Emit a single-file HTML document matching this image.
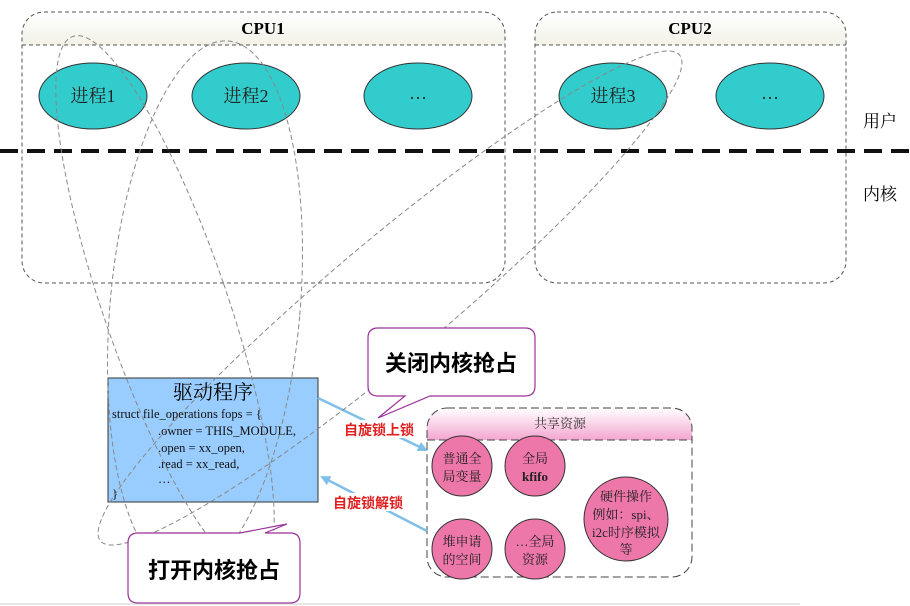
<!DOCTYPE html>
<html><head><meta charset="utf-8"><style>
body{margin:0;background:#fff}
svg{display:block}
text{font-family:"Liberation Serif","Noto Serif CJK SC",serif}
</style></head><body>
<svg width="910" height="606" viewBox="0 0 910 606" xmlns="http://www.w3.org/2000/svg">
<defs>
<linearGradient id="hd" x1="0" y1="0" x2="0" y2="1"><stop offset="0" stop-color="#fff"/><stop offset="1" stop-color="#f2f2e8"/></linearGradient>
<linearGradient id="pk" x1="0" y1="0" x2="0" y2="1"><stop offset="0" stop-color="#fff"/><stop offset="1" stop-color="#f4a6d0"/></linearGradient>
<marker id="ar" markerWidth="10" markerHeight="10" refX="8" refY="5" orient="auto" markerUnits="userSpaceOnUse"><path d="M0,0 L10,5 L0,10 z" fill="#7fbfea"/></marker>
</defs>
<path d="M22,45 V35 Q22,12 45,12 H482 Q505,12 505,35 V45 Z" fill="url(#hd)"/>
<rect x="22" y="12" width="483" height="271" rx="22" fill="none" stroke="#555" stroke-dasharray="4,3"/>
<line x1="22" y1="45" x2="505" y2="45" stroke="#555" stroke-dasharray="4,3"/>
<text x="263" y="34" font-size="17" font-weight="bold" text-anchor="middle">CPU1</text>
<path d="M535,45 V35 Q535,12 558,12 H823 Q846,12 846,35 V45 Z" fill="url(#hd)"/>
<rect x="535" y="12" width="311" height="271" rx="22" fill="none" stroke="#555" stroke-dasharray="4,3"/>
<line x1="535" y1="45" x2="846" y2="45" stroke="#555" stroke-dasharray="4,3"/>
<text x="690" y="34" font-size="17" font-weight="bold" text-anchor="middle">CPU2</text>
<g fill="#33cccc" stroke="#333" stroke-width="1">
<ellipse cx="93" cy="96" rx="54" ry="33"/>
<ellipse cx="246" cy="96" rx="54" ry="33"/>
<ellipse cx="418" cy="96" rx="54" ry="33"/>
<ellipse cx="613" cy="96" rx="54" ry="33"/>
<ellipse cx="770" cy="96" rx="54" ry="33"/>
</g>
<g font-size="18" text-anchor="middle" fill="#222">
<text x="93" y="102">进程1</text><text x="246" y="102">进程2</text><text x="418" y="99">…</text>
<text x="613" y="102">进程3</text><text x="770" y="99">…</text>
</g>
<line x1="0" y1="151" x2="910" y2="151" stroke="#111" stroke-width="4" stroke-dasharray="18,9"/>
<text x="880" y="127" font-size="17" text-anchor="middle">用户</text>
<text x="880" y="200" font-size="17" text-anchor="middle">内核</text>
<rect x="108" y="378" width="210" height="124" fill="#99ccff" stroke="#333"/>
<text x="213" y="399" font-size="20" text-anchor="middle">驱动程序</text>
<g font-size="12.5" fill="#111">
<text x="112" y="418">struct file_operations fops = {</text>
<text x="158" y="435">.owner = THIS_MODULE,</text>
<text x="158" y="452">.open = xx_open,</text>
<text x="158" y="468">.read = xx_read,</text>
<text x="158" y="483">…</text>
<text x="112" y="498">}</text>
</g>
<path d="M427,440 V430 Q427,408 449,408 H670 Q692,408 692,430 V440 Z" fill="url(#pk)"/>
<rect x="427" y="408" width="265" height="169" rx="20" fill="none" stroke="#444" stroke-dasharray="8,4"/>
<line x1="427" y1="440" x2="692" y2="440" stroke="#444" stroke-dasharray="8,4"/>
<text x="560" y="428" font-size="13" text-anchor="middle" fill="#333">共享资源</text>
<g fill="#ee77aa" stroke="#333">
<circle cx="462" cy="466" r="30"/><circle cx="535" cy="466" r="30"/>
<circle cx="462" cy="549" r="30"/><circle cx="535" cy="549" r="30"/>
<circle cx="626" cy="519" r="42"/>
</g>
<g font-size="13" text-anchor="middle" fill="#222">
<text x="462" y="463">普通全</text><text x="462" y="481">局变量</text>
<text x="535" y="463">全局</text><text x="535" y="481" font-weight="bold">kfifo</text>
<text x="462" y="546">堆申请</text><text x="462" y="564">的空间</text>
<text x="535" y="546">…全局</text><text x="535" y="564">资源</text>
<text x="626" y="501">硬件操作</text><text x="626" y="519">例如：spi、</text><text x="626" y="537">i2c时序模拟</text><text x="626" y="554">等</text>
</g>
<line x1="318" y1="398" x2="426" y2="450" stroke="#7fbfea" stroke-width="2.5" marker-end="url(#ar)"/>
<line x1="427" y1="531" x2="322" y2="477" stroke="#7fbfea" stroke-width="2.5" marker-end="url(#ar)"/>
<rect x="344" y="420" width="78" height="18" fill="#fff"/>
<rect x="332" y="493" width="80" height="18" fill="#fff"/>
<g font-size="14" fill="#e02020" font-weight="bold">
<text x="344" y="435" style="font-family:'Liberation Sans','Noto Sans CJK SC',sans-serif">自旋锁上锁</text>
<text x="333" y="508" style="font-family:'Liberation Sans','Noto Sans CJK SC',sans-serif">自旋锁解锁</text>
</g>
<g fill="none" stroke="#888" stroke-dasharray="5,3" stroke-width="1">
<ellipse cx="165" cy="304" rx="62" ry="283" transform="rotate(-19 165 304)"/>
<ellipse cx="205" cy="308" rx="95" ry="268" transform="rotate(5 205 308)"/>
<ellipse cx="390" cy="298" rx="58" ry="378" transform="rotate(50 390 298)"/>
</g>
<path d="M378,328 H525 Q535,328 535,338 V386 Q535,396 525,396 H430 L378,418 L405,396 H378 Q368,396 368,386 V338 Q368,328 378,328 Z" fill="#fff" stroke="#993399" stroke-width="1.2"/>
<text x="451" y="371" font-size="22" font-weight="bold" text-anchor="middle" style="font-family:'Liberation Sans','Noto Sans CJK SC',sans-serif">关闭内核抢占</text>
<path d="M138,533 H240 L287,524 L265,533 H290 Q300,533 300,543 V593 Q300,603 290,603 H138 Q128,603 128,593 V543 Q128,533 138,533 Z" fill="#fff" stroke="#993399" stroke-width="1.2"/>
<text x="214" y="578" font-size="22" font-weight="bold" text-anchor="middle" style="font-family:'Liberation Sans','Noto Sans CJK SC',sans-serif">打开内核抢占</text>
<line x1="0" y1="604" x2="800" y2="604" stroke="#ccc"/>
</svg>
</body></html>
